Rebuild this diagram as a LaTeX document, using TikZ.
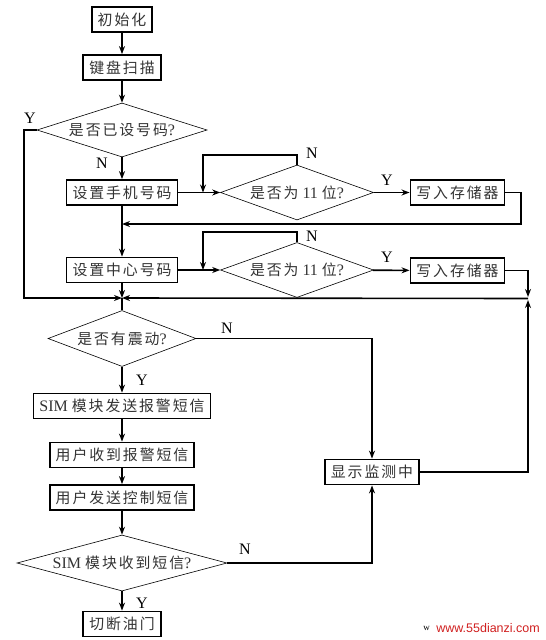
\documentclass[tikz,border=0pt]{standalone}
\usepackage{fontspec}
\setmainfont{Liberation Serif}
\newfontfamily\cjk[LetterSpace=13, Scale=0.93]{Noto Sans CJK SC}
\newfontfamily\wmfont{Liberation Sans}
\usetikzlibrary{arrows.meta,shapes.geometric}
\definecolor{tx}{HTML}{333333}
\definecolor{wm}{HTML}{D02020}
\newcommand{\Zh}[1]{{\cjk #1}}

\begin{document}
\begin{tikzpicture}[x=1pt,y=-1pt,
    box/.style={draw, line width=1.8pt, inner xsep=6pt, inner ysep=4pt, minimum height=25pt,
      text=tx, font=\fontsize{16}{16}\selectfont},
    dec/.style={draw, diamond, line width=0.6pt, inner sep=0pt, text=tx,
      label={[text=tx, font=\fontsize{16}{16}\selectfont]center:#1}},
    arr/.style={-{Stealth[length=8pt,width=6pt]}, line width=1.6pt},
    ln/.style={line width=1.6pt},
    yn/.style={font=\fontsize{16}{16}\selectfont}]
  \useasboundingbox (0,0) rectangle (546,640);
  % main column
  \node[box] (init) at (122,19.5) {\Zh{初始化}};
  \node[box] (scan) at (122,67.5) {\Zh{键盘扫描}};
  \node[dec={\Zh{是否已设号码}?}, minimum width=170pt, minimum height=54pt] (d1) at (122,130) {};
  \node[box] (setph) at (122,192.5) {\Zh{设置手机号码}};
  \node[dec={\Zh{是否为} 11 \Zh{位}?}, minimum width=153pt, minimum height=55pt] (d2) at (297,192.5) {};
  \node[box] (wr1) at (457.5,192.5) {\Zh{写入存储器}};
  \node[box] (setc) at (122,270) {\Zh{设置中心号码}};
  \node[dec={\Zh{是否为} 11 \Zh{位}?}, minimum width=153pt, minimum height=55pt] (d3) at (297,270) {};
  \node[box] (wr2) at (457.5,270.5) {\Zh{写入存储器}};
  \coordinate (j1) at (122,298);
  \node[dec={\Zh{是否有震动}?}, minimum width=148pt, minimum height=56pt] (d4) at (122,338.5) {};
  \node[box] (sim) at (122,406) {SIM \Zh{模块发送报警短信}};
  \node[box] (recv) at (122,455) {\Zh{用户收到报警短信}};
  \node[box] (send) at (122,497.5) {\Zh{用户发送控制短信}};
  \node[dec={SIM \Zh{模块收到短信}?}, minimum width=210pt, minimum height=56pt] (d5) at (122,563) {};
  \node[box] (cut) at (122,624) {\Zh{切断油门}};
  \node[box] (disp) at (372,472) {\Zh{显示监测中}};
  % helper points
  \coordinate (m1) at (203,192.5);
  \coordinate (m2) at (203,270);
  \coordinate (r1) at (521,192.5);
  \coordinate (b1) at (122,224);
  \coordinate (r2) at (528,297);
  \coordinate (r3) at (528,300);
  \coordinate (l1) at (24,130);
  % connectors
  \draw[arr] (init) -- (scan);
  \draw[arr] (scan) -- (d1);
  \draw[arr] (d1) -- (setph);
  \draw[arr] (d1.west) -- (l1) |- (j1);
  \draw[arr] (setph) -- (d2);
  \draw[arr] (d2.north) -- ++(0,-10) -| (m1);
  \draw[arr] (d2) -- (wr1);
  \draw[arr] (wr1.east) -- (r1) |- (b1);
  \draw[arr] (setph) -- (setc);
  \draw[arr] (setc) -- (d3);
  \draw[arr] (d3.north) -- ++(0,-10) -| (m2);
  \draw[arr] (d3) -- (wr2);
  \draw[arr] (wr2.east) -| (r2);
  \draw[arr] (528,298.5) -- (j1);
  \draw[arr] (setc) -- (j1);
  \draw[ln] (j1) -- (d4.north);
  \draw[arr] (d4.east) -| (disp.north);
  \draw[arr] (d4) -- (sim);
  \draw[arr] (sim) -- (recv);
  \draw[arr] (recv) -- (send);
  \draw[arr] (send) -- (d5);
  \draw[arr] (d5.east) -| (disp.south);
  \draw[arr] (d5) -- (cut);
  \draw[arr] (disp.east) -| (r3);
  % Y / N marks
  \node[yn] (y1) at (30,118) {Y};
  \node[yn] (n1) at (102,163) {N};
  \node[yn] (n2) at (312,153) {N};
  \node[yn] (y2) at (387,180) {Y};
  \node[yn] (n3) at (312,236) {N};
  \node[yn] (y3) at (387,257) {Y};
  \node[yn] (n4) at (227,328) {N};
  \node[yn] (y4) at (142,380) {Y};
  \node[yn] (n5) at (245,549) {N};
  \node[yn] (y5) at (142,603) {Y};
  % watermark
  \node[anchor=east, font=\wmfont\fontsize{12.5}{12.5}\selectfont, text=wm, inner sep=0pt] (wmk) at (540,628) {www.55dianzi.com};
  \node[anchor=east, font=\fontsize{9}{9}\selectfont, inner sep=0pt] (wmw) at ([xshift=-6pt]wmk.west) {w};
\end{tikzpicture}
\end{document}
